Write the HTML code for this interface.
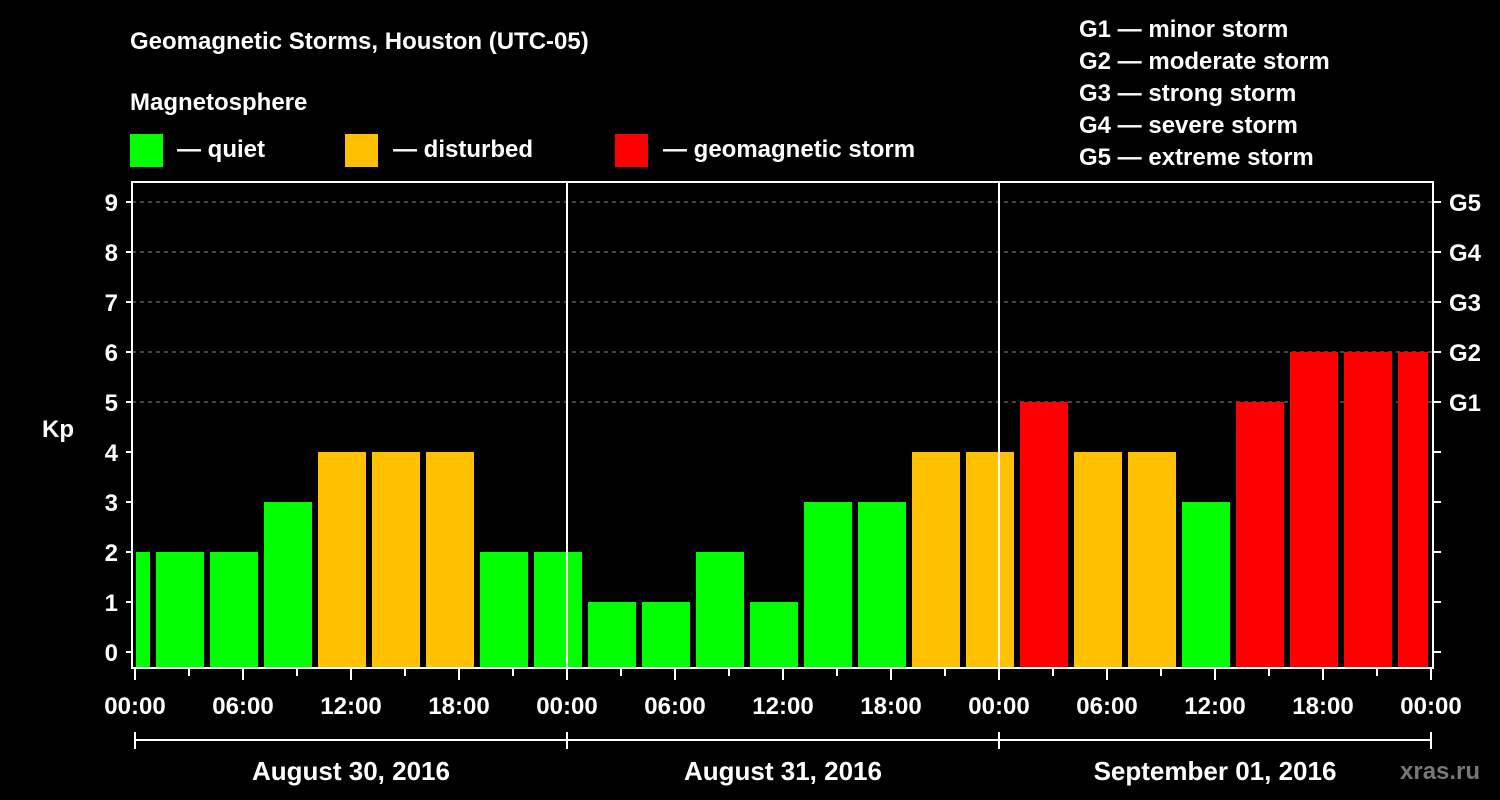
<!DOCTYPE html>
<html><head><meta charset="utf-8"><style>
html,body{margin:0;padding:0;background:#000;}
svg{display:block;font-family:"Liberation Sans",Arial,sans-serif;font-weight:bold;}
</style></head><body>
<svg id="chart" width="1500" height="800" viewBox="0 0 1500 800">
<text x="130" y="49" fill="#fff" font-size="24">Geomagnetic Storms, Houston (UTC-05)</text>
<text x="130" y="110" fill="#fff" font-size="24">Magnetosphere</text>
<g>
<rect x="130" y="134" width="33" height="33" fill="#00ff00"/>
<text x="177" y="157" fill="#fff" font-size="24">— quiet</text>
<rect x="345" y="134" width="33" height="33" fill="#ffc000"/>
<text x="393" y="157" fill="#fff" font-size="24">— disturbed</text>
<rect x="615" y="134" width="33" height="33" fill="#ff0000"/>
<text x="663" y="157" fill="#fff" font-size="24">— geomagnetic storm</text>
</g>
<g fill="#fff" font-size="24">
<text x="1079" y="37">G1 — minor storm</text>
<text x="1079" y="69">G2 — moderate storm</text>
<text x="1079" y="101">G3 — strong storm</text>
<text x="1079" y="133">G4 — severe storm</text>
<text x="1079" y="165">G5 — extreme storm</text>
</g>
<text x="42" y="437" fill="#fff" font-size="24">Kp</text>
<text x="1400" y="779" fill="#777" font-size="24">xras.ru</text>
<g id="grid"></g><g id="bars"></g><g id="axes"></g>
</svg>
<script>
const kpValues = [2,2,2,3,4,4,4,2,2, 1,1,2,1,3,3,4,4, 5,4,4,3,5,6,6,6];
const firstBarHour = -2;
const yTicks = [0,1,2,3,4,5,6,7,8,9];
const gLabels = ["G1","G2","G3","G4","G5"];
const gLevels = [5,6,7,8,9];
const xTickLabels = ["00:00","06:00","12:00","18:00","00:00","06:00","12:00","18:00","00:00","06:00","12:00","18:00","00:00"];
const dayLabels = ["August 30, 2016","August 31, 2016","September 01, 2016"];

const NS="http://www.w3.org/2000/svg";
const L=132,R=1433,T=182,B=668,X0=135,PXH=18;
const xs=h=>X0+h*PXH;
const ys=k=>652-k*50;
function mk(tag,attrs,parent,txt){const e=document.createElementNS(NS,tag);for(const k in attrs)e.setAttribute(k,attrs[k]);if(txt!==undefined)e.textContent=txt;parent.appendChild(e);return e;}
const grid=document.getElementById('grid'),bars=document.getElementById('bars'),axes=document.getElementById('axes');

gLevels.forEach((k,i)=>{
  const l=mk('line',{x1:L,x2:R,y1:ys(k),y2:ys(k),stroke:'#888','stroke-dasharray':'4,4','stroke-width':1},grid);
  
  
});

kpValues.forEach((v,i)=>{
  const h0=firstBarHour+i*3;
  let x1=xs(h0)+3, x2=xs(h0+3)-3;
  x1=Math.max(x1,136); x2=Math.min(x2,1428);
  const col=v>=5?'#ff0000':(v>=4?'#ffc000':'#00ff00');
  const r=mk('rect',{x:x1,y:ys(v),width:x2-x1,height:B-ys(v),fill:col},bars);
  
  
});

[1,2].forEach(d=>{
  const l=mk('line',{x1:xs(d*24),x2:xs(d*24),y1:T,y2:B,stroke:'#fff','stroke-width':2},axes);
  
  
});
const frame=mk('rect',{x:L,y:T,width:R-L,height:B-T,fill:'none',stroke:'#fff','stroke-width':2},axes);



yTicks.forEach(k=>{
  mk('line',{x1:L-6,x2:L,y1:ys(k),y2:ys(k),stroke:'#fff','stroke-width':2},axes);
  mk('line',{x1:R,x2:R+8,y1:ys(k),y2:ys(k),stroke:'#fff','stroke-width':2},axes);
  const t=mk('text',{x:L-14,y:ys(k)+9,fill:'#fff','font-size':24,'text-anchor':'end'},axes,String(k));
  
  
});
gLabels.forEach((g,i)=>{
  const t=mk('text',{x:1449,y:ys(gLevels[i])+9,fill:'#fff','font-size':24},axes,g);
  
  
});
for(let h=0;h<=72;h+=3){
  const major=h%6===0;
  mk('line',{x1:xs(h),x2:xs(h),y1:B,y2:B+(major?12:8),stroke:'#fff','stroke-width':2},axes);
}
xTickLabels.forEach((s,i)=>{
  const t=mk('text',{x:xs(i*6),y:714,fill:'#fff','font-size':24,'text-anchor':'middle'},axes,s);
  
  
});
mk('line',{x1:xs(0),x2:xs(72),y1:740,y2:740,stroke:'#fff','stroke-width':2},axes);
for(let d=0;d<=3;d++) mk('line',{x1:xs(d*24),x2:xs(d*24),y1:732,y2:749,stroke:'#fff','stroke-width':2},axes);
dayLabels.forEach((s,i)=>{
  const t=mk('text',{x:xs(i*24+12),y:780,fill:'#fff','font-size':26,'text-anchor':'middle'},axes,s);
  
  
});
</script>
</body></html>
